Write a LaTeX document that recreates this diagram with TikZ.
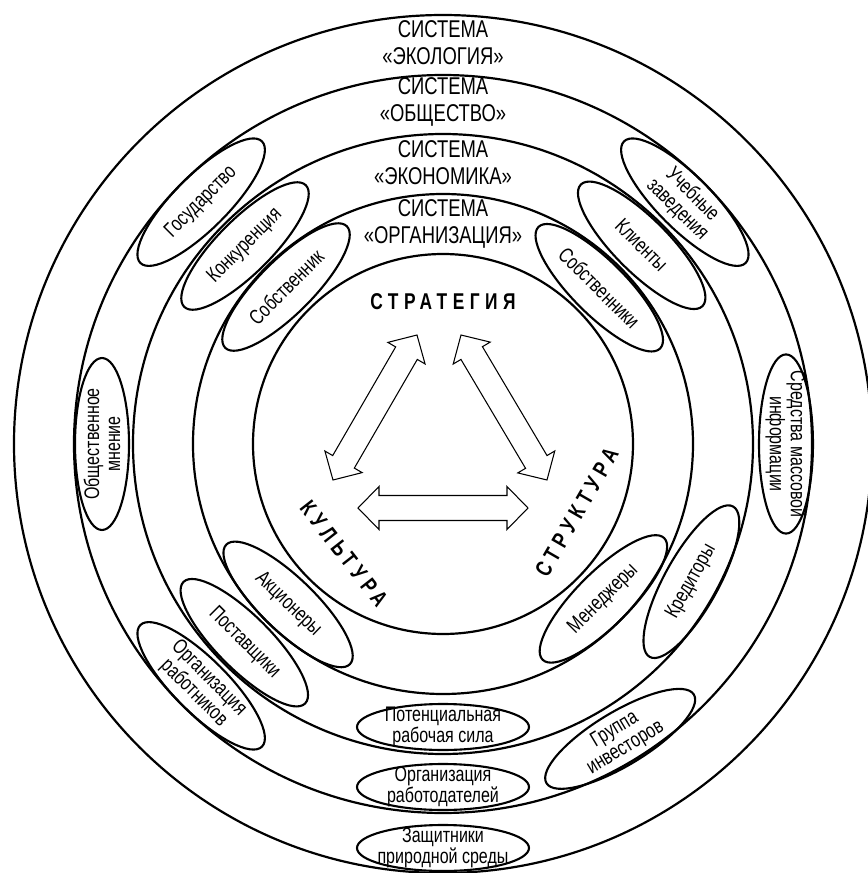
\documentclass[tikz,border=0pt]{standalone}
\usepackage{fontspec}
\setmainfont{Liberation Sans}[FakeStretch=0.76]
\newfontfamily\spacedfont{Liberation Sans}[FakeStretch=0.76,LetterSpace=24]
\usepackage{tikz}
\usetikzlibrary{shapes.geometric,calc}
\newcommand\arrhead{0.42cm}
\newcommand\arrhalf{0.43cm}
\newcommand\arrshaft{0.25cm}
\newcommand\dblarrow[2]{%
 \draw[arr] (#1) -- ($(#1)!\arrhead!(#2)!\arrhalf!90:(#2)$)
  -- ($(#1)!\arrhead!(#2)!\arrshaft!90:(#2)$) -- ($(#2)!\arrhead!(#1)!\arrshaft!-90:(#1)$)
  -- ($(#2)!\arrhead!(#1)!\arrhalf!-90:(#1)$) -- (#2) -- ($(#2)!\arrhead!(#1)!\arrhalf!90:(#1)$)
  -- ($(#2)!\arrhead!(#1)!\arrshaft!90:(#1)$) -- ($(#1)!\arrhead!(#2)!\arrshaft!-90:(#2)$)
  -- ($(#1)!\arrhead!(#2)!\arrhalf!-90:(#2)$) -- cycle;}

\begin{document}
\begin{tikzpicture}[x=0.02cm,y=0.02cm,
 ring/.style={line width=1.25pt},
 sys/.style={align=center,font=\fontsize{13.8}{15.2}\selectfont},
 actor/.style={ellipse,draw,line width=1.2pt,minimum width=3.44cm,minimum height=1.08cm,inner xsep=-0.2cm,inner ysep=-0.14cm,align=center,font=\fontsize{12}{12}\selectfont},
 flat/.style={minimum height=0.92cm},
 core/.style={font=\spacedfont\bfseries\fontsize{13}{14}\selectfont},
 arr/.style={line width=0.6pt,line join=miter}
]
\useasboundingbox (-443,-429) rectangle (424,444);
\foreach \r in {190,250,310,369,429} \draw[ring] (0,0) circle[radius=\r];

\node[sys] (eco) at (0,401) {СИСТЕМА\\«ЭКОЛОГИЯ»};
\node[sys] (soc) at (0,342) {СИСТЕМА\\«ОБЩЕСТВО»};
\node[sys] (econ) at (0,281) {СИСТЕМА\\«ЭКОНОМИКА»};
\node[sys] (org) at (0,220) {СИСТЕМА\\«ОРГАНИЗАЦИЯ»};

\node[actor,rotate=45] (gov) at (135:342) {Государство};
\node[actor,rotate=-45] (school) at (45:342) {Учебные\\заведения};
\node[actor,rotate=90] (opinion) at (180:341) {Общественное\\мнение};
\node[actor,rotate=-90] (media) at (0:343) {Средства массовой\\информации};
\node[actor,rotate=-45] (unions) at (225:342) {Организация\\работников};
\node[actor,rotate=31] (invest) at (301:344) {Группа\\инвесторов};
\node[actor,flat] (employ) at (270:343) {Организация\\работодателей};
\node[actor,flat] (green) at (270:404) {Защитники\\природной среды};

\node[actor,rotate=45] (compet) at (135:280) {Конкуренция};
\node[actor,rotate=-45] (client) at (45:281) {Клиенты};
\node[actor,rotate=-45] (supply) at (225:281) {Поставщики};
\node[actor,rotate=61] (credit) at (331:284) {Кредиторы};
\node[actor,flat] (labour) at (270:283) {Потенциальная\\рабочая сила};

\node[actor,rotate=45] (owner) at (135:222) {Собственник};
\node[actor,rotate=-45] (owners) at (45:221) {Собственники};
\node[actor,rotate=-44] (share) at (226:223) {Акционеры};
\node[actor,rotate=45] (manag) at (316:223) {Менеджеры};

\node[core] (strat) at (0,142) {СТРАТЕГИЯ};
\node[core,rotate=-52] (cult) at (228:148) {КУЛЬТУРА};
\node[core,rotate=60] (struct) at (-27:150) {СТРУКТУРА};

\coordinate (lt) at (-26,109);
\coordinate (lb) at (-110,-36);
\coordinate (rt) at (18,109);
\coordinate (rb) at (104,-36);
\coordinate (bl) at (-85,-64);
\coordinate (br) at (85,-64);
\dblarrow{lb}{lt}
\dblarrow{rb}{rt}
\dblarrow{bl}{br}
\end{tikzpicture}
\end{document}
